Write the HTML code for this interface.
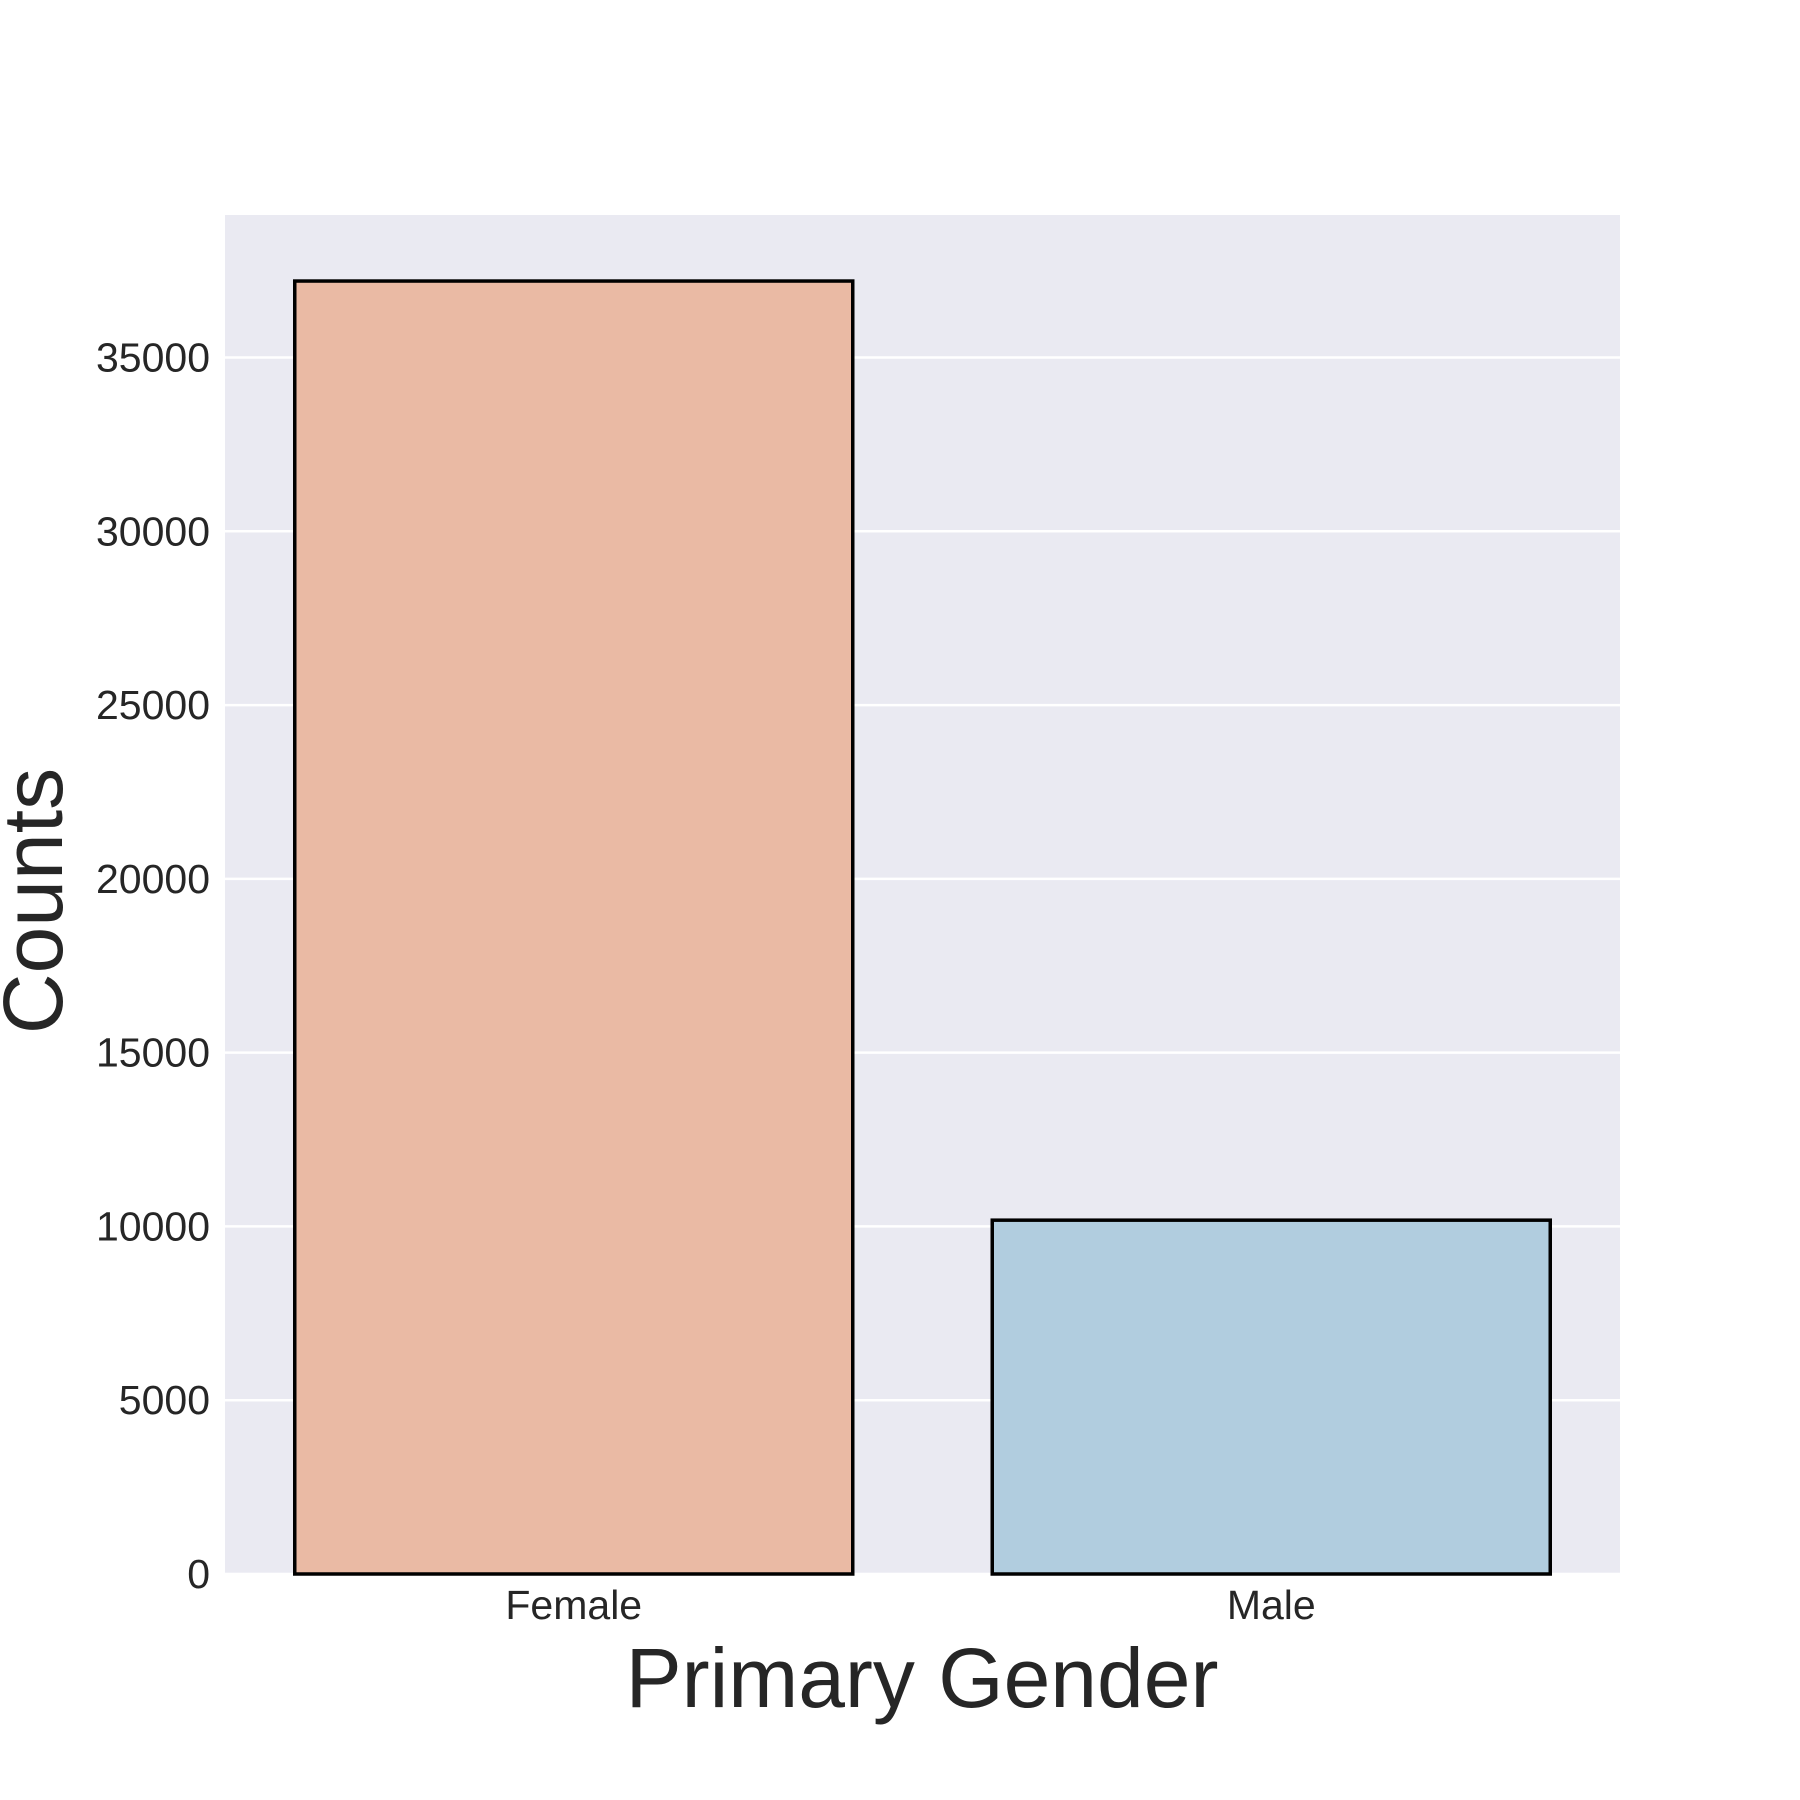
<!DOCTYPE html>
<html><head><meta charset="utf-8"><style>body{margin:0;background:#fff}svg{display:block}</style></head>
<body>
<svg id="chart" width="1800" height="1800" xmlns="http://www.w3.org/2000/svg" font-family="'Liberation Sans', Arial, sans-serif">
<rect x="225" y="215" width="1395" height="1359" fill="#eaeaf2"/>
<g id="grid"></g><g id="bars"></g><g id="yticks"></g><g id="xticks"></g>
<text x="922" y="1707" font-size="84" text-anchor="middle" fill="#262626">Primary Gender</text>
<text transform="translate(62,901) rotate(-90)" font-size="84" text-anchor="middle" fill="#262626">Counts</text>
</svg>
<script>
const categories = ["Female", "Male"];
const counts = [37200, 10180];
const yTicks = [0, 5000, 10000, 15000, 20000, 25000, 30000, 35000];
const colors = ["#eabaa4", "#b1cddf"];
const NS = "http://www.w3.org/2000/svg";
const x0 = 225, x1 = 1620, y0 = 1574, y1 = 215, yMax = 39100;
const y = v => y0 - v / yMax * (y0 - y1);
const band = (x1 - x0) / categories.length;
const xc = i => x0 + band * (i + 0.5);
function mk(tag, attrs, parent, txt) {
  const e = document.createElementNS(NS, tag);
  for (const k in attrs) e.setAttribute(k, attrs[k]);
  if (txt !== undefined) e.textContent = txt;
  document.getElementById(parent).appendChild(e);
  return e;
}
yTicks.forEach(t => {
  const l = mk("line", {x1: x0, x2: x1, y1: y(t), y2: y(t), stroke: "#fff", "stroke-width": 2.5}, "grid");
  
  
  const tx = mk("text", {x: 210, y: y(t) + 14, "font-size": 41, "text-anchor": "end", fill: "#262626"}, "yticks", String(t));
  
  
});
categories.forEach((c, i) => {
  const w = band * 0.8;
  const r = mk("rect", {x: xc(i) - w / 2, y: y(counts[i]), width: w, height: y0 - y(counts[i]), fill: colors[i], stroke: "#000", "stroke-width": 3.5}, "bars");
  
  
  const tx = mk("text", {x: xc(i), y: 1619, "font-size": 41, "text-anchor": "middle", fill: "#262626"}, "xticks", c);
  
  
});
</script>
</body></html>
